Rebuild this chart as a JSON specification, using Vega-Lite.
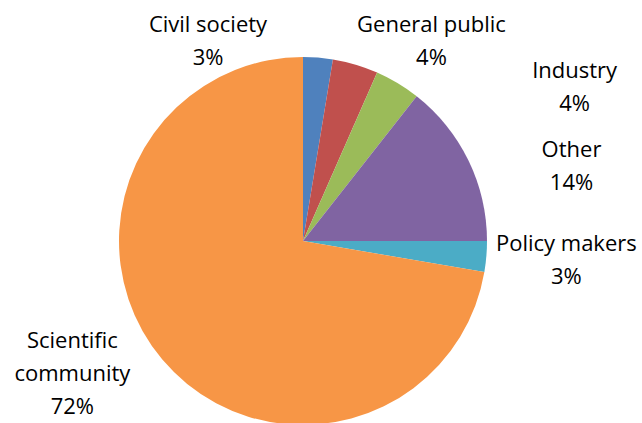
{
  "$schema": "https://vega.github.io/schema/vega-lite/v6.json",
  "autosize": {"type": "none"},
  "width": 606,
  "height": 482,
  "padding": {"left": 0, "top": 0, "right": 36, "bottom": 0},
  "background": "white",
  "config": {"view": {"stroke": null}},
  "data": {"values": [
    {"category": "Civil society", "value": 2.6, "label": "Civil society\n3%"},
    {"category": "General public", "value": 4.0, "label": "General public\n4%"},
    {"category": "Industry", "value": 4.0, "label": "Industry\n4%"},
    {"category": "Other", "value": 14.4, "label": "Other\n14%"},
    {"category": "Policy makers", "value": 2.7, "label": "Policy makers\n3%"},
    {"category": "Scientific community", "value": 72.3, "label": "Scientific\ncommunity\n72%"}
  ]},
  "encoding": {
    "theta": {"field": "value", "type": "quantitative", "stack": true},
    "order": {"field": "category", "type": "ordinal"}
  },
  "layer": [
    {
      "mark": {"type": "arc", "outerRadius": 184},
      "encoding": {
        "color": {"field": "category", "type": "nominal", "legend": null,
          "scale": {"domain": ["Civil society", "General public", "Industry", "Other", "Policy makers", "Scientific community"],
                    "range": ["#4F81BD", "#C0504D", "#9BBB59", "#8064A2", "#4BACC6", "#F79646"]}}
      }
    },
    {
      "mark": {"type": "text", "radius": 184, "dx": -110, "dy": -33, "font": "Open Sans", "fontSize": 22, "lineBreak": "\n", "lineHeight": 33, "baseline": "middle", "align": "center", "fill": "#000000"},
      "encoding": {"text": {"condition": {"test": "datum.category === 'Civil society'", "field": "label"}, "value": ""}}
    },
    {
      "mark": {"type": "text", "radius": 184, "dx": 76, "dy": -40, "font": "Open Sans", "fontSize": 22, "lineBreak": "\n", "lineHeight": 33, "baseline": "middle", "align": "center", "fill": "#000000"},
      "encoding": {"text": {"condition": {"test": "datum.category === 'General public'", "field": "label"}, "value": ""}}
    },
    {
      "mark": {"type": "text", "radius": 184, "dx": 177, "dy": -12, "font": "Open Sans", "fontSize": 22, "lineBreak": "\n", "lineHeight": 33, "baseline": "middle", "align": "center", "fill": "#000000"},
      "encoding": {"text": {"condition": {"test": "datum.category === 'Industry'", "field": "label"}, "value": ""}}
    },
    {
      "mark": {"type": "text", "radius": 184, "dx": 103, "dy": -11, "font": "Open Sans", "fontSize": 22, "lineBreak": "\n", "lineHeight": 33, "baseline": "middle", "align": "center", "fill": "#000000"},
      "encoding": {"text": {"condition": {"test": "datum.category === 'Other'", "field": "label"}, "value": ""}}
    },
    {
      "mark": {"type": "text", "radius": 184, "dx": 80, "dy": -13, "font": "Open Sans", "fontSize": 22, "lineBreak": "\n", "lineHeight": 33, "baseline": "middle", "align": "center", "fill": "#000000"},
      "encoding": {"text": {"condition": {"test": "datum.category === 'Policy makers'", "field": "label"}, "value": ""}}
    },
    {
      "mark": {"type": "text", "radius": 184, "dx": -90, "dy": -19, "font": "Open Sans", "fontSize": 22, "lineBreak": "\n", "lineHeight": 33, "baseline": "middle", "align": "center", "fill": "#000000"},
      "encoding": {"text": {"condition": {"test": "datum.category === 'Scientific community'", "field": "label"}, "value": ""}}
    }
  ]
}
